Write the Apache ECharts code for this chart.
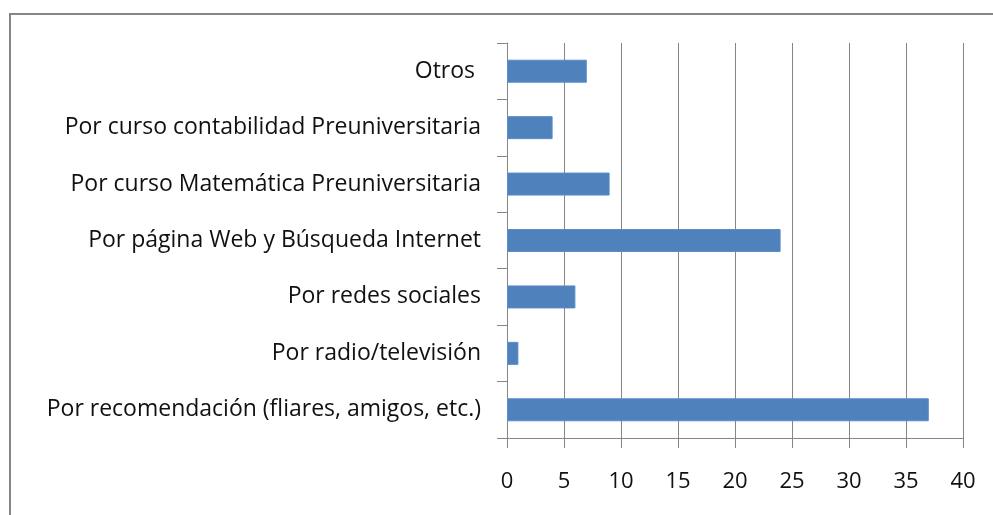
<!DOCTYPE html>
<html>
<head>
<meta charset="utf-8">
<script src="https://cdn.jsdelivr.net/npm/echarts@6/dist/echarts.min.js"></script>
<style>
  html, body { margin: 0; padding: 0; background: #fff; }
  #chart { width: 993px; height: 515px; }
</style>
</head>
<body>
<div id="chart"></div>
<script>
// categories top to bottom, as in the picture
var categories = [
  'Otros ',
  'Por curso contabilidad Preuniversitaria',
  'Por curso Matemática Preuniversitaria',
  'Por página Web y Búsqueda Internet',
  'Por redes sociales',
  'Por radio/televisión',
  'Por recomendación (fliares, amigos, etc.)'
]
var values = [7, 4, 9, 24, 6, 1, 37]
var xTicks = { min: 0, max: 40, interval: 5 }

var chart = echarts.init(document.getElementById('chart'))
var gray = '#868686'

chart.setOption({
  backgroundColor: '#fff',
  animation: false,
  textStyle: { fontFamily: 'Open Sans' },
  graphic: [{
    type: 'rect',
    shape: { x: 10, y: 14, width: 1000, height: 520 },
    style: { fill: 'none', stroke: gray, lineWidth: 2 }
  }],
  grid: {
    left: 507,
    right: 30,
    top: 43,
    bottom: 77
  },
  xAxis: {
    type: 'value',
    min: xTicks.min,
    max: xTicks.max,
    interval: xTicks.interval,
    axisLine: { show: true, lineStyle: { color: gray, width: 1 } },
    axisTick: { show: true, length: 10, lineStyle: { color: gray } },
    splitLine: { show: true, lineStyle: { color: gray, width: 1 } },
    axisLabel: { color: '#111', fontSize: 22, margin: 33 }
  },
  yAxis: {
    type: 'category',
    inverse: true,
    data: categories,
    axisLine: { show: true, lineStyle: { color: gray, width: 1 } },
    axisTick: { show: true, length: 10, lineStyle: { color: gray } },
    axisLabel: { color: '#111', fontSize: 23, margin: 26 }
  },
  series: [{
    type: 'bar',
    data: values,
    barWidth: 23,
    itemStyle: { color: '#4f81bd', borderColor: '#5a8cc8', borderWidth: 1 }
  }]
})
</script>
</body>
</html>
